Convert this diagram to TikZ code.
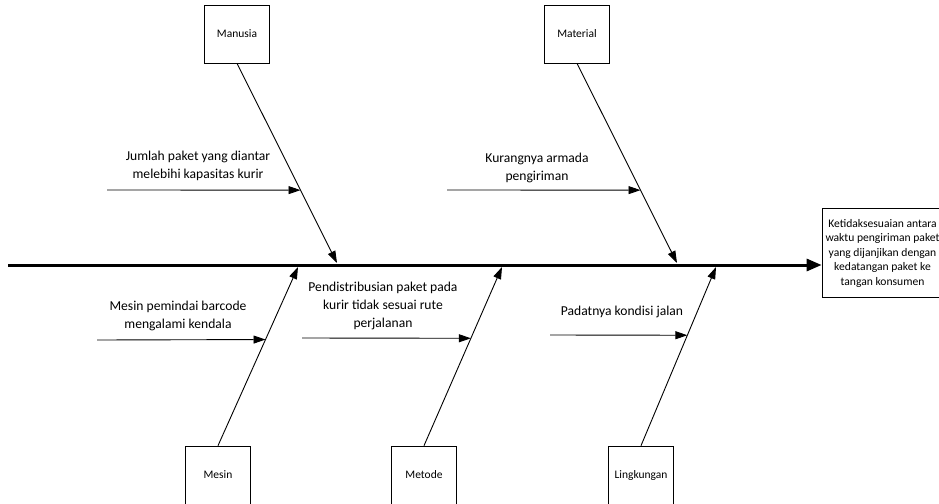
\documentclass[tikz,border=0pt]{standalone}
\usepackage{fontspec}
\setmainfont{Carlito}
\usetikzlibrary{arrows.meta,calc}
\begin{document}
\begin{tikzpicture}[x=1pt,y=-1pt,
	cause/.style={rectangle,draw,line width=0.7pt,minimum width=65pt,minimum height=58pt,font=\fontsize{11.5}{14}\selectfont},
	bone/.style={-{Triangle[length=12pt,width=8pt]},line width=0.9pt},
	spine/.style={-{Triangle[length=15pt,width=12pt]},line width=3pt},
	reason/.style={align=center,font=\fontsize{13.6}{18}\selectfont,inner sep=0pt}]
	\useasboundingbox (0,0) rectangle (939,503);

	\node (manusia)[cause] at (237,34){Manusia};
	\node (material)[cause] at (577,34){Material};
	\node (mesin)[cause] at (218,475){Mesin};
	\node (metode)[cause] at (424,475){Metode};
	\node (lingkungan)[cause] at (641,475){Lingkungan};

	\node (effect)[rectangle,draw,line width=0.7pt,minimum width=121pt,minimum height=89pt,align=center,font=\fontsize{11.6}{14.5}\selectfont] at (882.5,253)
		{Ketidaksesuaian antara\\waktu pengiriman paket\\yang dijanjikan dengan\\kedatangan paket ke\\tangan konsumen};

	% spine
	\coordinate (tail) at (8,265);
	\draw[spine](tail) -- (tail -| effect.west);

	% main bones
	\coordinate (manusia tip) at (337,263);
	\coordinate (material tip) at (677,263);
	\coordinate (mesin tip) at (298,267);
	\coordinate (metode tip) at (502,267);
	\coordinate (lingkungan tip) at (716,267);
	\draw[bone](manusia.south) -- (manusia tip);
	\draw[bone](material.south) -- (material tip);
	\draw[bone](mesin.north) -- (mesin tip);
	\draw[bone](metode.north) -- (metode tip);
	\draw[bone](lingkungan.north) -- (lingkungan tip);

	% sub bones
	\coordinate (a) at (107,190);
	\coordinate (b) at (447,190);
	\coordinate (c) at (97,340);
	\coordinate (d) at (302,338);
	\coordinate (e) at (550,335);
	\draw[bone](a) -- ($(manusia.south)!0.635!(manusia tip)$);
	\draw[bone](b) -- ($(material.south)!0.635!(material tip)$);
	\draw[bone](c) -- ($(mesin.north)!0.594!(mesin tip)$);
	\draw[bone](d) -- ($(metode.north)!0.601!(metode tip)$);
	\draw[bone](e) -- ($(lingkungan.north)!0.618!(lingkungan tip)$);

	\node (jumlah)[reason] at (198,166){Jumlah paket yang diantar\\melebihi kapasitas kurir};
	\node (armada)[reason] at (537,168){Kurangnya armada\\pengiriman};
	\node (pemindai)[reason] at (178,316){Mesin pemindai barcode\\mengalami kendala};
	\node (rute)[reason] at (383,306){Pendistribusian paket pada\\kurir tidak sesuai rute\\perjalanan};
	\node (jalan)[reason] at (622,312){Padatnya kondisi jalan};
\end{tikzpicture}
\end{document}
